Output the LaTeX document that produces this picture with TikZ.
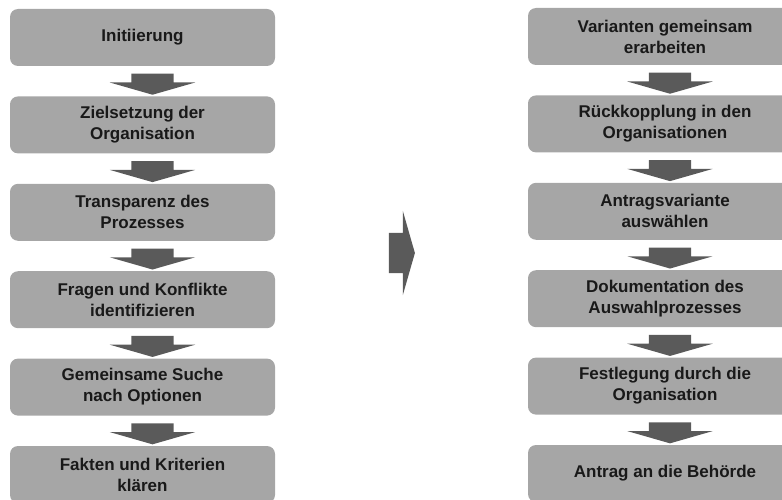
\documentclass[tikz,border=0pt]{standalone}
\usepackage{fontspec}
\setmainfont{Liberation Sans}
\usetikzlibrary{shapes.arrows, positioning, calc}
\definecolor{boxgray}{RGB}{166,166,166}
\definecolor{arrowgray}{RGB}{90,90,90}
\tikzset{
    stepbox/.style={rectangle, rounded corners=8pt, fill=boxgray, align=center, minimum width=265pt, minimum height=57pt, font=\bfseries\fontsize{17}{21}\selectfont, text=black!90},
    widebox/.style={stepbox, minimum width=274pt},
    downarrow/.style={single arrow, fill=arrowgray, rotate=-90, inner xsep=0pt, inner ysep=21pt, minimum height=21pt, single arrow head extend=21.5pt, single arrow tip angle=148},
    bigarrow/.style={single arrow, fill=arrowgray, inner xsep=0pt, inner ysep=20pt, minimum height=26pt, single arrow head extend=22pt, single arrow tip angle=148}
}

\begin{document}
\begin{tikzpicture}[x=1pt, y=-1pt, node distance=30pt]
            \clip (0,0) rectangle (782,500);
            % left column
            \node[stepbox] (init) at (142.5,37.5) {Initiierung};
            \node[stepbox, below=of init] (ziel) {Zielsetzung der\\Organisation};
            \node[stepbox, below=of ziel] (transp) {Transparenz des\\Prozesses};
            \node[stepbox, below=of transp] (fragen) {Fragen und Konflikte\\identifizieren};
            \node[stepbox, below=of fragen] (suche) {Gemeinsame Suche\\nach Optionen};
            \node[stepbox, below=of suche] (fakten) {Fakten und Kriterien\\klären};
            % right column
            \node[widebox] (varianten) at (665,36.5) {Varianten gemeinsam\\erarbeiten};
            \node[widebox, below=of varianten] (rueck) {Rückkopplung in den\\Organisationen};
            \node[widebox, below=of rueck] (auswahl) {Antragsvariante\\auswählen};
            \node[widebox, below=of auswahl] (doku) {Dokumentation des\\Auswahlprozesses};
            \node[widebox, below=of doku] (festl) {Festlegung durch die\\Organisation};
            \node[widebox, below=of festl] (antrag) {Antrag an die Behörde};
            % arrows
            \node[downarrow] (a1) at ($(init.south)!0.5!(ziel.north)+(10,0)$) {};
            \node[downarrow] (a2) at ($(ziel.south)!0.5!(transp.north)+(10,0)$) {};
            \node[downarrow] (a3) at ($(transp.south)!0.5!(fragen.north)+(10,0)$) {};
            \node[downarrow] (a4) at ($(fragen.south)!0.5!(suche.north)+(10,0)$) {};
            \node[downarrow] (a5) at ($(suche.south)!0.5!(fakten.north)+(10,0)$) {};
            \node[downarrow] (b1) at ($(varianten.south)!0.5!(rueck.north)+(5,0)$) {};
            \node[downarrow] (b2) at ($(rueck.south)!0.5!(auswahl.north)+(5,0)$) {};
            \node[downarrow] (b3) at ($(auswahl.south)!0.5!(doku.north)+(5,0)$) {};
            \node[downarrow] (b4) at ($(doku.south)!0.5!(festl.north)+(5,0)$) {};
            \node[downarrow] (b5) at ($(festl.south)!0.5!(antrag.north)+(5,0)$) {};
            \node[bigarrow] (mid) at (399,253) {};
        \end{tikzpicture}
\end{document}
